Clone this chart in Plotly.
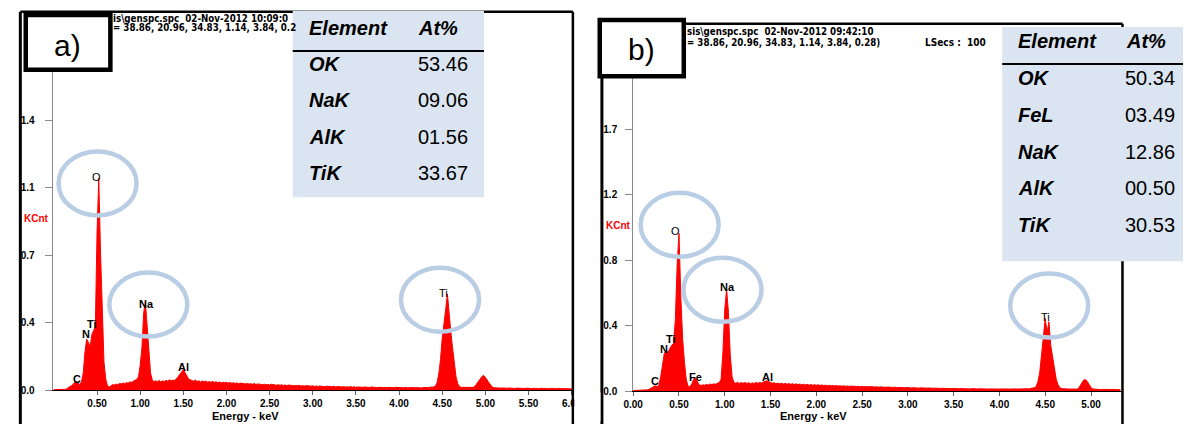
import numpy as np
import plotly.graph_objects as go

W, H = 1192, 427
FONT = "Liberation Sans, Arial, sans-serif"
NARROW = "Liberation Sans Narrow, Arial Narrow, DejaVu Sans Condensed, sans-serif"
E_STEP = 0.02  # keV per channel of the listed spectra

# ---------------- data: spectrum a) (KCnt per 0.02 keV channel, from 0.00 keV) ----------------
kcnt_a = [
    0.004, 0.004, 0.004, 0.004, 0.004, 0.004, 0.005, 0.006, 0.012, 0.020,
    0.024, 0.030, 0.042, 0.046, 0.035, 0.030, 0.045, 0.090, 0.200, 0.265,
    0.250, 0.225, 0.290, 0.310, 0.330, 0.820, 1.100, 0.720, 0.380, 0.150,
    0.060, 0.025, 0.018, 0.025, 0.030, 0.028, 0.033, 0.030, 0.036, 0.034,
    0.038, 0.035, 0.040, 0.038, 0.044, 0.042, 0.048, 0.050, 0.058, 0.070,
    0.130, 0.220, 0.400, 0.460, 0.330, 0.200, 0.090, 0.055, 0.045, 0.050,
    0.045, 0.052, 0.044, 0.050, 0.046, 0.053, 0.048, 0.055, 0.050, 0.054,
    0.052, 0.060, 0.072, 0.088, 0.100, 0.108, 0.092, 0.072, 0.060, 0.055,
    0.052, 0.048, 0.054, 0.046, 0.050, 0.044, 0.049, 0.045, 0.048, 0.043,
    0.046, 0.042, 0.047, 0.041, 0.045, 0.040, 0.044, 0.039, 0.043, 0.040,
    0.042, 0.038, 0.041, 0.037, 0.040, 0.036, 0.039, 0.035, 0.038, 0.036,
    0.037, 0.034, 0.036, 0.033, 0.035, 0.032, 0.036, 0.031, 0.034, 0.032,
    0.033, 0.030, 0.032, 0.029, 0.031, 0.028, 0.032, 0.029, 0.030, 0.027,
    0.030, 0.027, 0.029, 0.026, 0.028, 0.025, 0.028, 0.026, 0.027, 0.024,
    0.026, 0.024, 0.027, 0.023, 0.025, 0.022, 0.025, 0.023, 0.024, 0.022,
    0.024, 0.021, 0.023, 0.020, 0.023, 0.021, 0.022, 0.019, 0.022, 0.020,
    0.021, 0.019, 0.022, 0.018, 0.020, 0.019, 0.021, 0.018, 0.020, 0.017,
    0.019, 0.017, 0.020, 0.017, 0.019, 0.016, 0.018, 0.017, 0.019, 0.016,
    0.018, 0.016, 0.017, 0.015, 0.018, 0.016, 0.017, 0.015, 0.016, 0.015,
    0.017, 0.015, 0.016, 0.014, 0.016, 0.015, 0.017, 0.014, 0.016, 0.015,
    0.016, 0.014, 0.015, 0.014, 0.016, 0.013, 0.015, 0.014, 0.016, 0.014,
    0.015, 0.014, 0.016, 0.013, 0.015, 0.014, 0.016, 0.015, 0.017, 0.016,
    0.018, 0.022, 0.040, 0.085, 0.160, 0.270, 0.360, 0.420, 0.500, 0.380,
    0.300, 0.220, 0.130, 0.070, 0.035, 0.020, 0.016, 0.017, 0.015, 0.016,
    0.016, 0.015, 0.017, 0.016, 0.022, 0.035, 0.050, 0.062, 0.072, 0.078,
    0.068, 0.055, 0.040, 0.026, 0.018, 0.014, 0.013, 0.012, 0.013, 0.012,
    0.013, 0.011, 0.012, 0.011, 0.013, 0.011, 0.012, 0.010, 0.012, 0.011,
    0.012, 0.010, 0.011, 0.010, 0.012, 0.010, 0.011, 0.009, 0.011, 0.010,
    0.011, 0.009, 0.011, 0.010, 0.011, 0.009, 0.010, 0.009, 0.011, 0.009,
    0.010, 0.009, 0.010, 0.008, 0.010, 0.009, 0.010, 0.008, 0.009, 0.008,
    0.009,
]

# ---------------- data: spectrum b) ----------------
kcnt_b = [
    0.004, 0.004, 0.004, 0.004, 0.004, 0.004, 0.004, 0.005, 0.008, 0.014,
    0.022, 0.030, 0.034, 0.028, 0.040, 0.090, 0.180, 0.240, 0.255, 0.245,
    0.270, 0.290, 0.300, 0.450, 0.800, 1.000, 0.600, 0.330, 0.180, 0.070,
    0.030, 0.028, 0.045, 0.075, 0.083, 0.060, 0.040, 0.036, 0.040, 0.037,
    0.042, 0.039, 0.045, 0.041, 0.046, 0.044, 0.050, 0.055, 0.075, 0.250,
    0.520, 0.645, 0.500, 0.230, 0.090, 0.055, 0.050, 0.056, 0.048, 0.054,
    0.050, 0.055, 0.049, 0.053, 0.047, 0.052, 0.049, 0.054, 0.050, 0.055,
    0.052, 0.058, 0.064, 0.066, 0.060, 0.054, 0.050, 0.053, 0.047, 0.051,
    0.046, 0.050, 0.045, 0.049, 0.044, 0.048, 0.043, 0.047, 0.042, 0.046,
    0.041, 0.045, 0.040, 0.044, 0.039, 0.043, 0.038, 0.042, 0.037, 0.041,
    0.037, 0.040, 0.036, 0.039, 0.035, 0.038, 0.034, 0.037, 0.033, 0.036,
    0.033, 0.035, 0.032, 0.034, 0.031, 0.034, 0.030, 0.033, 0.030, 0.032,
    0.030, 0.032, 0.029, 0.031, 0.028, 0.030, 0.027, 0.030, 0.027, 0.029,
    0.027, 0.029, 0.026, 0.028, 0.025, 0.027, 0.025, 0.027, 0.024, 0.026,
    0.024, 0.026, 0.023, 0.025, 0.022, 0.024, 0.022, 0.024, 0.021, 0.023,
    0.021, 0.023, 0.020, 0.022, 0.020, 0.022, 0.019, 0.021, 0.019, 0.020,
    0.019, 0.020, 0.018, 0.020, 0.018, 0.019, 0.017, 0.019, 0.017, 0.018,
    0.017, 0.018, 0.016, 0.018, 0.016, 0.017, 0.015, 0.017, 0.015, 0.016,
    0.015, 0.017, 0.015, 0.016, 0.014, 0.016, 0.014, 0.015, 0.014, 0.015,
    0.014, 0.015, 0.013, 0.015, 0.013, 0.014, 0.013, 0.015, 0.013, 0.014,
    0.013, 0.014, 0.013, 0.014, 0.012, 0.014, 0.013, 0.014, 0.012, 0.014,
    0.013, 0.014, 0.012, 0.014, 0.013, 0.015, 0.014, 0.016, 0.018, 0.022,
    0.030, 0.060, 0.120, 0.220, 0.320, 0.460, 0.370, 0.440, 0.290, 0.210,
    0.140, 0.075, 0.040, 0.022, 0.016, 0.014, 0.013, 0.014, 0.013, 0.012,
    0.013, 0.012, 0.013, 0.015, 0.030, 0.052, 0.070, 0.073, 0.060, 0.040,
    0.022, 0.014, 0.012, 0.011, 0.012, 0.010, 0.011, 0.010, 0.011, 0.010,
    0.011, 0.010, 0.011, 0.009, 0.010, 0.009, 0.010,
]

# axis ticks
xtick_a = [0.5, 1.0, 1.5, 2.0, 2.5, 3.0, 3.5, 4.0, 4.5, 5.0, 5.5, 6.0]
xtick_b = [0.0, 0.5, 1.0, 1.5, 2.0, 2.5, 3.0, 3.5, 4.0, 4.5, 5.0]
ytick_vals_a = [0.0, 0.35, 0.70, 1.05, 1.40]
ytick_text_a = ["0.0", "0.4", "0.7", "1.1", "1.4"]
ytick_vals_b = [0.0, 0.415, 0.83, 1.245, 1.66]
ytick_text_b = ["0.0", "0.4", "0.8", "1.2", "1.7"]

# peak identifications (label, energy keV, KCnt level of the label)
peak_lab_a = ["O", "Na", "N", "Ti", "C", "Al", "Ti"]
peak_E_a = [0.498, 1.068, 0.373, 0.441, 0.263, 1.498, 4.517]
peak_v_a = [1.104, 0.448, 0.291, 0.342, 0.061, 0.119, 0.504]
peak_lab_b = ["O", "Na", "N", "Ti", "C", "Fe", "Al", "Ti"]
peak_E_b = [0.466, 1.029, 0.341, 0.413, 0.233, 0.681, 1.462, 4.508]
peak_v_b = [1.017, 0.660, 0.265, 0.329, 0.067, 0.087, 0.087, 0.469]

# highlighted peaks (ellipse centres)
circ_E_a = [0.506, 1.094, 4.474]
circ_v_a = [1.073, 0.445, 0.470]
circ_E_b = [0.507, 0.975, 4.543]
circ_v_b = [1.054, 0.642, 0.542]

# composition tables
elem_a = ["OK", "NaK", "AlK", "TiK"]
at_a = ["53.46", "09.06", "01.56", "33.67"]
elem_b = ["OK", "FeL", "NaK", "AlK", "TiK"]
at_b = ["50.34", "03.49", "12.86", "00.50", "30.53"]

# ---------------------------------------------------------------
def px(x):
    return x / W


def py(y):
    return 1 - y / H


energy_a = np.round(np.arange(len(kcnt_a)) * E_STEP, 3)
energy_b = np.round(np.arange(len(kcnt_b)) * E_STEP, 3)

fig = go.Figure()
for xs, ys, xa, ya in [(energy_a, kcnt_a, "x", "y"), (energy_b, kcnt_b, "x2", "y2")]:
    fig.add_trace(go.Scatter(
        x=xs, y=ys, xaxis=xa, yaxis=ya, mode="lines",
        line=dict(color="#ff0000", width=1), fill="tozeroy",
        fillcolor="#ff0000", hoverinfo="skip", showlegend=False))

tickfont = dict(family=FONT, size=10, color="black", weight="bold")


def xaxis(domain, rng, ticks, anchor):
    return dict(domain=domain, range=rng, anchor=anchor, showline=True,
                linecolor="black", linewidth=1, ticks="outside", ticklen=4,
                tickcolor="#606060", tickvals=ticks,
                ticktext=["%.2f" % t for t in ticks], tickfont=tickfont,
                showgrid=False, zeroline=False, fixedrange=True)


def yaxis(domain, rng, vals, text, anchor, standoff):
    return dict(domain=domain, range=rng, anchor=anchor, showline=True,
                linecolor="#8a8a8a", linewidth=1, ticks="outside", ticklen=7,
                tickcolor="#8a8a8a", tickvals=vals, ticktext=text,
                tickfont=tickfont, ticklabelstandoff=standoff,
                showgrid=False, zeroline=False, fixedrange=True)


shapes = []


def line(x0, y0, x1, y1, width=2.5, color="black"):
    shapes.append(dict(type="line", xref="paper", yref="paper", x0=px(x0), y0=py(y0),
                       x1=px(x1), y1=py(y1), line=dict(color=color, width=width),
                       layer="above"))


def rect(x0, y0, x1, y1, fill, lw=0, lc="black"):
    shapes.append(dict(type="rect", xref="paper", yref="paper", x0=px(x0), y0=py(y0),
                       x1=px(x1), y1=py(y1), fillcolor=fill,
                       line=dict(color=lc, width=lw), layer="above"))


# outer frames
line(10.5, 12, 10.5, 430, 3)
line(10.5, 12, 572, 12, 2.5)
line(572, 12, 572, 430, 2.5)
line(601.5, 24, 601.5, 430, 3)
line(601.5, 24, 1130.5, 24, 2.5)
line(1130.5, 24, 1130.5, 430, 2.5)
# cover label spilling over the frame of a)
rect(573.5, 398, 600, 427, "white")

# tables
TAB = "#dbe5f1"
rect(287.3, 11, 481.7, 200, TAB)
line(287.3, 51.7, 481.7, 51.7, 2)
rect(1008.3, 27.3, 1192, 265, TAB)
line(1008.3, 65, 1192, 65, 2)

# panel label boxes
rect(16, 15.3, 102, 70.7, "white", 4.5)
rect(599.3, 20.3, 684.7, 77.3, "white", 4.5)

# ellipses
for es, vs, xr, yr in [(circ_E_a, circ_v_a, "x", "y"), (circ_E_b, circ_v_b, "x2", "y2")]:
    for e, v in zip(es, vs):
        shapes.append(dict(type="circle", xref=xr, yref=yr, xsizemode="pixel",
                           ysizemode="pixel", xanchor=e, yanchor=v, x0=-39, x1=39,
                           y0=-32, y1=32, line=dict(color="#b9cde5", width=4.5),
                           layer="above"))

ann = []


def text(t, x, y, size, xanchor="center", color="black", family=FONT, weight="normal"):
    ann.append(dict(text=t, x=px(x), y=py(y), xref="paper", yref="paper",
                    xanchor=xanchor, yanchor="middle", showarrow=False,
                    font=dict(family=family, size=size, color=color, weight=weight)))


# panel labels
text("a)", 58.5, 46, 30)
text("b)", 641.7, 50, 30)

# instrument header text
HF = 9.7
text("is\\genspc.spc  02-Nov-2012 10:09:0", 103, 18.5, HF, "left", family=NARROW, weight="bold")
text("= 38.86, 20.96, 34.83, 1.14, 3.84, 0.2", 103, 27.5, HF, "left", family=NARROW, weight="bold")
text("sis\\genspc.spc  02-Nov-2012 09:42:10", 686, 32, HF, "left", family=NARROW, weight="bold")
text("= 38.86, 20.96, 34.83, 1.14, 3.84, 0.28)", 686, 43.5, HF, "left", family=NARROW, weight="bold")
text("LSecs :  100", 961, 42.7, 10, family=NARROW, weight="bold")

# axis names
text("KCnt", 27, 221.7, 10, color="#ff0000", weight="bold")
text("KCnt", 618, 229, 10, color="#ff0000", weight="bold")
text("Energy - keV", 239, 422, 11, weight="bold")
text("Energy - keV", 816.7, 422, 11, weight="bold")

# tables text
text("<b><i>Element</i></b>", 302, 28, 20, "left")
text("<b><i>At%</i></b>", 413, 28, 20, "left")
for i, (el, v) in enumerate(zip(elem_a, at_a)):
    yy = 65 + i * 36.8
    text("<b><i>%s</i></b>" % el, 302, yy, 20, "left")
    text(v, 413, yy, 20, "left")
text("<b><i>Element</i></b>", 1022, 41.7, 20, "left")
text("<b><i>At%</i></b>", 1132, 41.7, 20, "left")
for i, (el, v) in enumerate(zip(elem_b, at_b)):
    yy = 79.5 + i * 37.2
    text("<b><i>%s</i></b>" % el, 1022, yy, 20, "left")
    text(v, 1131, yy, 20, "left")

# peak labels
for labs, es, vs, xr, yr in [(peak_lab_a, peak_E_a, peak_v_a, "x", "y"),
                             (peak_lab_b, peak_E_b, peak_v_b, "x2", "y2")]:
    for lab, e, v in zip(labs, es, vs):
        w = "normal" if (lab == "O" or (lab == "Ti" and e > 3)) else "bold"
        ann.append(dict(text=lab, x=e, y=v, xref=xr, yref=yr, showarrow=False,
                        xanchor="center", yanchor="middle",
                        font=dict(family=FONT, size=11, color="black", weight=w)))

fig.update_layout(
    width=W, height=H, margin=dict(l=0, r=0, t=0, b=0),
    paper_bgcolor="white", plot_bgcolor="rgba(0,0,0,0)", showlegend=False,
    xaxis=xaxis([px(43.3), px(572)], [-0.015, 6.014], xtick_a, "y"),
    yaxis=yaxis([py(396), py(30)], [0, 1.870], ytick_vals_a, ytick_text_a, "x", 8),
    xaxis2=xaxis([px(633.3), px(1130)], [0, 5.338], xtick_b, "y2"),
    yaxis2=yaxis([py(396.7), py(40)], [0, 2.229], ytick_vals_b, ytick_text_b, "x2", 6),
    shapes=shapes, annotations=ann,
)

fig.write_html(
    "out.html",
    config={"displayModeBar": False},
    post_script="document.body.style.margin='0';document.body.style.overflow='hidden';",
)
